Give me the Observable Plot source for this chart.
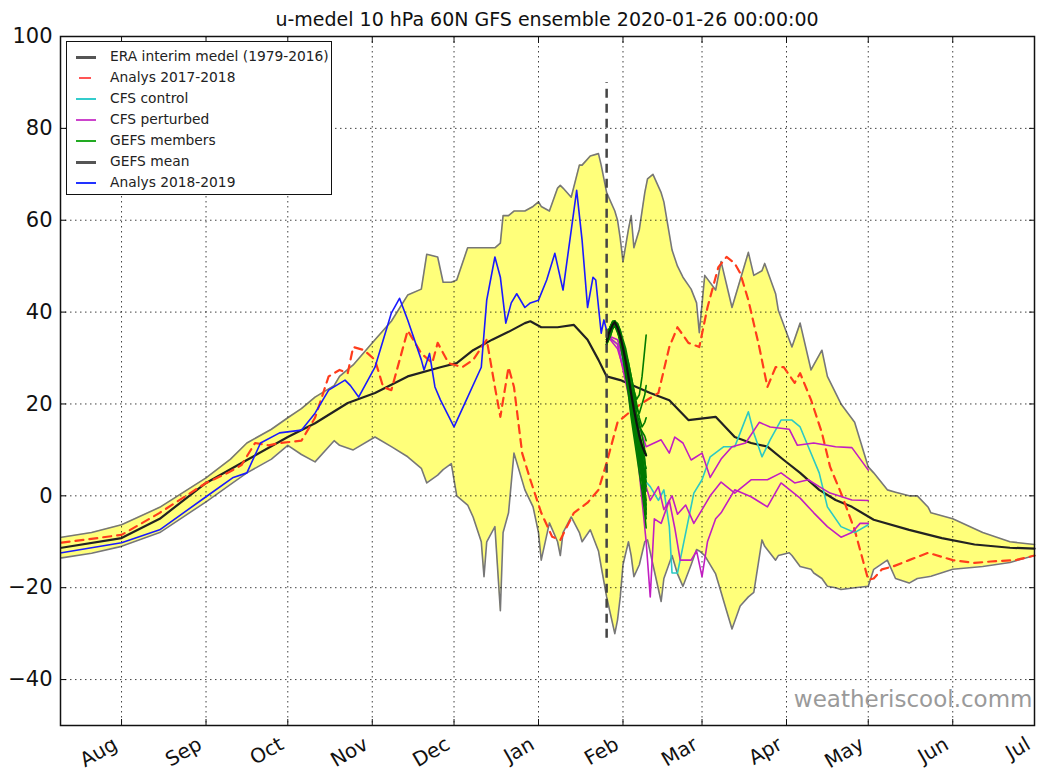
<!DOCTYPE html>
<html><head><meta charset="utf-8">
<script src="https://cdn.jsdelivr.net/npm/d3@7"></script>
<script src="https://cdn.jsdelivr.net/npm/@observablehq/plot@0.6"></script>
<style>
body{margin:0;background:#fff;font-family:"DejaVu Sans",sans-serif;}
#wrap{position:relative;width:1038px;height:773px;overflow:hidden;}
#title{position:absolute;left:60px;width:974px;top:8px;text-align:center;font-size:19px;color:#111;white-space:nowrap;}
#chart{position:absolute;left:0;top:30px;}
#legend{position:absolute;left:66px;top:41px;width:266px;height:154px;border:1.5px solid #111;background:#fff;box-sizing:border-box;}
.row{position:absolute;left:0;height:21px;line-height:21px;font-size:13.8px;color:#222;white-space:nowrap;}
.row .sw{position:absolute;top:10px;left:9px;width:20px;height:0;}
.row .tx{position:absolute;left:43px;top:0;}
</style></head>
<body><div id="wrap"><div id="title"></div><div id="chart"></div><div id="legend"></div></div>
<script>
// ---------- data (x = days since 2019-08-01) ----------
const titleText = "u-medel 10 hPa 60N GFS ensemble 2020-01-26 00:00:00";
const watermark = "weatheriscool.comm";
const monthStarts = ["2019-08-01","2019-09-01","2019-10-01","2019-11-01","2019-12-01","2020-01-01","2020-02-01","2020-03-01","2020-04-01","2020-05-01","2020-06-01","2020-07-01"];
const monthLabels = ["Aug","Sep","Oct","Nov","Dec","Jan","Feb","Mar","Apr","May","Jun","Jul"];
const yTicks = [-40,-20,0,20,40,60,80,100];
const forecastStart = "2020-01-26";
const forecastMarkerRange = [-31, 90];

// min/max envelope
const envDays  = [-22,-11,0,14,31,40,46,55,61,66,71,78,80,85,93,99,105,110,112,116,118,121,123,127,129,132,133,134,137,139,140,142,144,148,151,153,154,157,160,161,162,165,168,169,172,175,176,178,181,182,183,184,186,187,188,190,192,193,195,198,199,202,204,206,209,211,212,214,218,220,222,224,227,230,232,235,236,240,241,245,246,249,253,254,257,259,262,264,269,274,276,281,284,289,292,296,297,305,316,326,335];
const envUpper = [-9,-8,-6.3,-2.5,3.9,8,11.5,14.5,17,19,21.5,24,26,28.5,34,38,43.7,45,52.6,52,46.5,46.5,47,54,54,54,54,54,54,55,61,61,62,62,63,64,63,62,67,67.6,67,65,72,72,74,74.5,72,66,62,60,56,51,58,61,54,58,66,69,70,66,64,53.5,50,47.6,45,42,35.5,48,44.8,51,46,41,47,53,48,49,50.6,44,40.4,34,32.4,37.6,27.4,28.5,31.7,26,22.4,20,16,6.3,5,1.3,0.8,0,0,-2.5,-3.7,-5,-8,-10,-10.6];
const envLower = [-13.5,-12.5,-11,-8,-1.3,2.5,5,8,11,9,7.4,12,11,10,12.8,10.7,8.5,6,2.8,4.5,5.7,7,0,-2,-4.6,-10,-17.6,-10,-6.7,-25,-8,-3.7,9.3,1.3,-2.4,-8,-14,-5.9,-10,-13,-8,-4.6,-8,-10,-7.4,-12,-15.4,-22,-30,-27,-22,-15,-10,-13,-17.6,-15,-10,-9.6,-15,-23,-18,-13,-17,-19.7,-15,-11.7,-12,-13,-17,-21,-25,-29,-24,-22,-21,-9.6,-11,-14,-13,-12.4,-13,-15.4,-16,-16.8,-18,-19.7,-20,-20.4,-20,-19.7,-16,-14,-18,-19,-18,-17.6,-17.5,-16,-15.4,-14.5,-13];

// ERA interim climatology
const eraDays = [-22,0,14,31,46,61,71,83,93,105,117,123,129,136,142,148,150,154,160,166,171,175,178,183,194,201,208,218,225,231,237,243,249,256,262,268,276,289,301,313,326,335];
const eraU    = [-11.3,-9.2,-5,2.8,7.8,12.8,15.8,20.2,22.4,26,28,28.9,31.7,34,35.7,37.6,38,36.7,36.7,37.2,34,29.6,26,25.2,22.4,20.8,16.5,17.2,12.8,11.5,10.7,7.8,5,1.3,-0.9,-2.4,-5.2,-7.4,-9.2,-10.6,-11.3,-11.5];

// Analys 2017-2018
const a1718Days = [-22,0,14,31,39,44,49,54,58,66,71,76,80,83,85,89,93,96,99,105,110,114,116,120,125,129,134,137,139,142,144,147,150,154,158,161,166,171,175,178,182,186,191,197,201,204,208,212,215,219,222,225,227,230,234,237,240,243,247,249,253,257,260,264,269,274,276,279,283,289,296,305,313,319,328,335];
const a1718U    = [-10.2,-8.5,-3.7,2.8,5,6.7,11.5,11,11.5,12,17,26,27.4,26.7,32.4,31.7,29.6,23.7,23,36,31,28.9,33.3,28.9,28,29.6,34,23.7,17.2,28,23.7,9.3,3.5,-3.7,-8.9,-9.6,-3.7,-1.5,1.3,7.2,16,18,20.2,22.4,32.4,36.7,33.3,32.4,41,49.8,52,50.6,48.5,42.6,32.4,23.7,28,28,24.6,26.7,20.9,13.7,6.3,0.6,-7.4,-18.3,-18,-16,-15.4,-14,-12.4,-14,-14.6,-14.3,-14,-13];

// Analys 2018-2019 (current season)
const a1819Days = [-22,0,14,31,41,46,51,58,66,71,76,82,84,87,93,99,102,105,110,111,113,115,117,122,127,132,134,137,139,141,143,145,148,150,153,156,159,162,165,167,169,171,173,174,176,177,178];
const a1819U    = [-12.4,-10.2,-7.4,-0.2,4,5,11.5,13.7,14.3,18,23,25.2,24,21.5,28,39.8,43,38.3,29.6,27.4,31,23.7,20.9,15,21.5,28,42.6,52,47.6,37.6,42,44,41,42,42.6,47,52.8,44.8,57.8,66.5,55.6,41,47.6,47,35.4,38.3,36];

// CFS control
const cfsCtrlDays = [178,182,186,190,192.5,194,197,199,201,202,204,206,210,213,216,221,225,227,230,232,235,238,242,246,249,252,256,259,264,269,274];
const cfsCtrlU    = [35,33,24,12,3,2,-1,1.3,-6.7,-16.8,-16.8,-11,0.6,3.5,8.5,10.7,10.7,13.7,18.3,13.7,8.5,12.2,16.5,16.5,15,10.7,5,-2.4,-6.7,-8,-6.3];

// CFS perturbed (three members)
const cfsP1Days = [178,182,186,189.5,192.5,198,201,203,206,209,213,216,220,224,229,234,238,245,248,254,262,268,274];
const cfsP1U    = [35,34,26,16,10.7,12.2,9.3,12.8,11.5,7.8,9.3,4,8,10.7,11.5,16,15,14.5,11,11.5,10.7,10.5,5.6];
const cfsP2Days = [178,182,186,189.5,192.5,194,197,199,202,204,207,210,213,216,220,225,231,237,242,247,252,256,260,268,274];
const cfsP2U    = [35,32,24,12,2,-1,2,-3,0,-4,-2,-6,-3,0,3,0.6,3.5,3.5,5,2.8,3.5,2,0.6,-0.9,-1];
const cfsP3Days = [178,182,186,189.5,192.5,194,195.5,198,201,203,205,209,211,213,215,218,220,225,231,237,242,249,254,259,264,268,271,274];
const cfsP3U    = [35,33,22,8,-10,-22,-5,-6,-1,-7,-14,-14,-12,-17.6,-10,-5,-3.7,1.3,-0.2,-2.4,2.8,-0.5,-3.7,-6.7,-9,-8,-6,-6];

// GEFS members and mean
const gefsDays = [178,178.75,179.5,180.25,181,182,183,184,185,186,187,188,189,190,191,192,192.5];
const gefsMembers = [
  [33,35,36,37.5,38,37,35,33,30,27,23,19,16,12,9,5,3],
  [34,36,37,38,38,36,34,31,28,24,20,16,12,8,5,1,-1],
  [33,34,35,36.5,37,36.5,35,33,31,28,24,21,18,16,13,10,9],
  [34,35,36,37.5,38,36,33,30,26,22,17,13,9,5,1,-4,-7],
  [33,35,36,36.5,37,36.5,35,33,31,29,26,23,21,22,26,32,35],
  [34,36,37,38,38,37.5,36,33,29,25,21,17,14,11,8,0,-3],
  [33,34,35,36.5,37,35.5,34,31,27,23,19,15,11,7,3,-2,-5],
  [34,35,36,37.5,38,37,35,33,30,27,24,20,17,15,14,13,12],
  [33,35,36,37.5,38,37.5,36,34,32,29,26,23,20,17,15,16,17],
  [34,36,37,38,38,36,34,30,27,23,19,15,11,7,4,0,-2],
  [33,35,36,36.5,37,36,35,33,30,26,22,18,15,13,10,7,6],
  [34,35,36,37.5,38,36.5,35,32,29,25,21,17,14,10,7,3,1],
  [33,35,36.5,37.5,38,37,34,31,28,25,22,19,16,14,11,8,4],
  [34,35.5,36.5,37.5,38,36.5,34.5,32,29,26,23,20,17,13,9,4,2],
  [33,35,36,37,37.5,36.5,35,32.5,30,27,24,22,19,18,20,22,24],
  [34,36,37,37.5,38,37,35,32,28,24,20,16,13,9,6,2,-4]
];
const gefsMean = [33.5,35.3,36.3,37.3,37.8,36.6,34.8,32.2,29.3,26,22.2,18.8,15.8,13,10.9,9.4,8.8];

// legend
const legendLabels = ["ERA interim medel (1979-2016)","Analys 2017-2018","CFS control","CFS perturbed","GEFS members","GEFS mean","Analys 2018-2019"];
const legendColors = ["#555","#ff5555","#33cccc","#cc44cc","#22aa22","#555","#2233ff"];
const legendWidths = [3,2,2.5,2.5,2,3,2];

// ---------- build ----------
const base = Date.UTC(2019, 7, 1);
const toDate = d => new Date(base + d * 864e5);
const series = (days, vals, id) => days.map((d, i) => ({date: toDate(d), v: vals[i], id}));
const env = envDays.map((d, i) => ({date: toDate(d), upper: envUpper[i], lower: envLower[i]}));
const monthDates = monthStarts.map(s => new Date(s + "T00:00:00Z"));
const labelOf = new Map(monthDates.map((d, i) => [+d, monthLabels[i]]));
const gefs = gefsMembers.flatMap((m, k) => series(gefsDays, m, "g" + k));
const cfsPert = [...series(cfsP1Days, cfsP1U, 1), ...series(cfsP2Days, cfsP2U, 2), ...series(cfsP3Days, cfsP3U, 3)];
const fc = new Date(forecastStart + "T00:00:00Z");

const plot = Plot.plot({
  width: 1038, height: 743,
  marginTop: 6, marginLeft: 60, marginRight: 4, marginBottom: 48,
  style: {fontFamily: "DejaVu Sans, sans-serif", background: "transparent", overflow: "visible", color: "#111"},
  x: {type: "utc", domain: [toDate(-22.4), toDate(335)]},
  y: {domain: [-50, 100]},
  marks: [
    Plot.areaY(env, {x: "date", y1: "lower", y2: "upper", fill: "#ffff7a"}),
    Plot.line(env, {x: "date", y: "upper", stroke: "#777", strokeWidth: 1.6}),
    Plot.line(env, {x: "date", y: "lower", stroke: "#777", strokeWidth: 1.6}),
    Plot.gridY(yTicks, {stroke: "#000", strokeOpacity: 0.75, strokeDasharray: "1.5,3.5"}),
    Plot.gridX(monthDates, {stroke: "#000", strokeOpacity: 0.75, strokeDasharray: "1.5,3.5"}),
    Plot.line(series(eraDays, eraU), {x: "date", y: "v", stroke: "#222", strokeWidth: 2.2}),
    Plot.line(series(a1718Days, a1718U), {x: "date", y: "v", stroke: "#ff3c1c", strokeWidth: 2.2, strokeDasharray: "8,6"}),
    Plot.line(series(cfsCtrlDays, cfsCtrlU), {x: "date", y: "v", stroke: "#2cc9c4", strokeWidth: 1.6}),
    Plot.line(cfsPert, {x: "date", y: "v", z: "id", stroke: "#c21ec2", strokeWidth: 1.6}),
    Plot.line(gefs, {x: "date", y: "v", z: "id", stroke: "#007a00", strokeWidth: 1.6}),
    Plot.line(series(gefsDays, gefsMean), {x: "date", y: "v", stroke: "#111", strokeWidth: 2.2}),
    Plot.line(series(a1819Days, a1819U), {x: "date", y: "v", stroke: "#1a1aff", strokeWidth: 1.6}),
    Plot.ruleX([fc], {x: d => d, y1: forecastMarkerRange[0], y2: forecastMarkerRange[1], stroke: "#444", strokeWidth: 2.5, strokeDasharray: "9,6"}),
    Plot.axisY({ticks: yTicks, anchor: "left", tickSize: -6, tickPadding: 14, fontSize: 21, label: null, stroke: "#000"}),
    Plot.axisY({ticks: yTicks, anchor: "right", tickSize: -6, tickFormat: () => "", label: null}),
    Plot.axisX({ticks: monthDates, anchor: "bottom", tickSize: -6, tickFormat: () => "", label: null}),
    Plot.axisX({ticks: monthDates, anchor: "bottom", tickSize: 0, tickPadding: 17, dx: -6, tickRotate: -30, fontSize: 20, tickFormat: d => labelOf.get(+d), label: null}),
    Plot.axisX({ticks: monthDates, anchor: "top", tickSize: -6, tickFormat: () => "", label: null}),
    Plot.frame({stroke: "#111", strokeWidth: 1.5}),
    Plot.text([watermark], {frameAnchor: "bottom-right", dx: -2, dy: -19, text: d => d, fontSize: 23, fill: "#9a9a9a", textAnchor: "end", lineAnchor: "bottom"})
  ]
});
document.getElementById("chart").appendChild(plot);
document.getElementById("title").textContent = titleText;

const lg = document.getElementById("legend");
legendLabels.forEach((lab, i) => {
  const r = document.createElement("div");
  r.className = "row";
  r.style.top = (4 + i * 21) + "px";
  const sw = document.createElement("div");
  sw.className = "sw";
  sw.style.borderTop = legendWidths[i] + "px solid " + legendColors[i];
  if (i === 1) { sw.style.left = "12px"; sw.style.width = "12px"; }
  const tx = document.createElement("div");
  tx.className = "tx";
  tx.textContent = lab;
  r.appendChild(sw); r.appendChild(tx);
  lg.appendChild(r);
});
</script></body></html>
